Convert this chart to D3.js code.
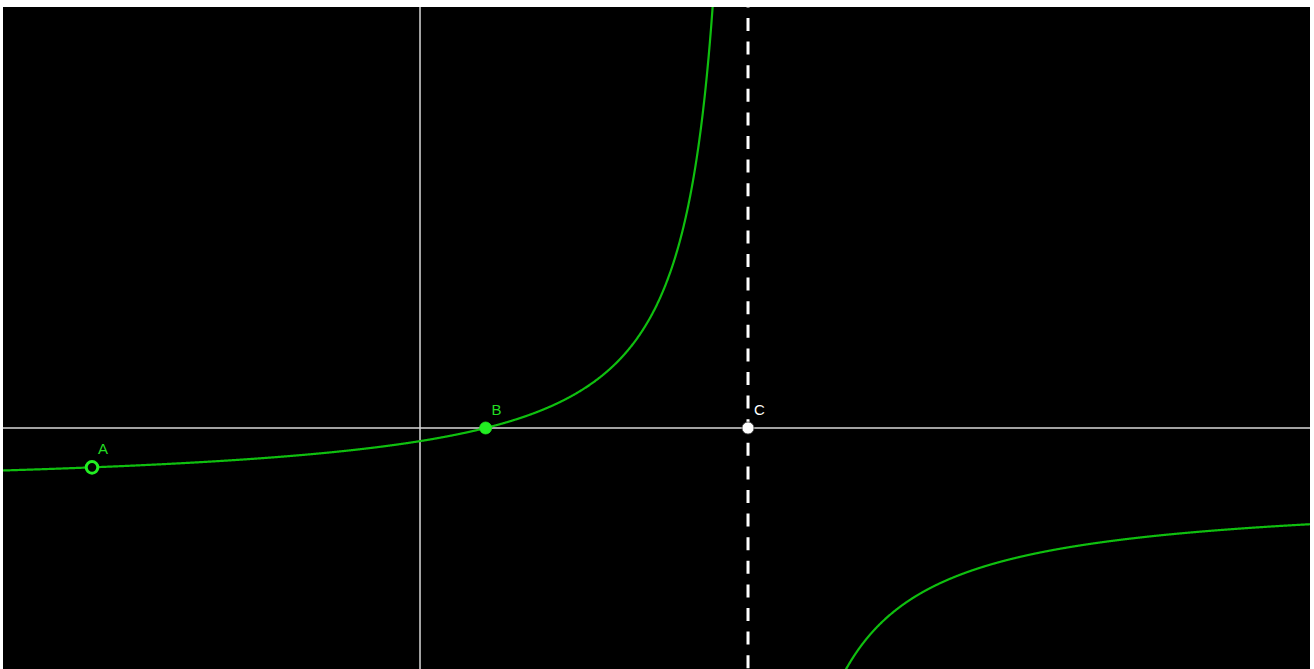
<!DOCTYPE html>
<html>
<head>
<meta charset="utf-8">
<script src="https://cdn.jsdelivr.net/npm/d3@7"></script>
<style>
  body { margin: 0; background: #fff; }
  svg { display: block; }
</style>
</head>
<body>
<div id="graph"></div>
<script>
// view window in graph units
var xView = [-6.357, 13.567];
var yView = [-3.674, 6.418];

// y = hAsym + k / (x - pole), zero at x = 1
var zeroX = 1;
var poleX = 5;
var hAsym = -1;
var kCoef = -4;

// named points
var pointNames = ["A", "B", "C"];
var pointX = [-5, 1, 5];
var pointY = [-0.6, 0, 0];
var pointStyle = ["open", "filled", "white"];

function f(x) {
  return hAsym + kCoef / (x - poleX);
}

function drawGraph() {
  var margin = { top: 7, right: 4, bottom: 0, left: 3 },
    width = 1314 - margin.left - margin.right,
    height = 669 - margin.top - margin.bottom;

  var svg = d3
    .select("#graph")
    .append("svg")
    .attr("width", 1314)
    .attr("height", 669);

  var g = svg
    .append("g")
    .attr("transform", "translate(" + margin.left + "," + margin.top + ")");

  g.append("rect")
    .attr("width", width)
    .attr("height", height)
    .attr("fill", "black");

  g.append("clipPath")
    .attr("id", "clip")
    .append("rect")
    .attr("width", width)
    .attr("height", height);

  var x = d3.scaleLinear().domain(xView).range([0, width]);
  var y = d3.scaleLinear().domain(yView).range([height, 0]);

  var plot = g.append("g").attr("clip-path", "url(#clip)");

  // axes
  plot
    .append("line")
    .attr("x1", 0)
    .attr("x2", width)
    .attr("y1", y(0))
    .attr("y2", y(0))
    .attr("stroke", "#d8d8d8")
    .attr("stroke-width", 1.5);

  plot
    .append("line")
    .attr("x1", x(0))
    .attr("x2", x(0))
    .attr("y1", 0)
    .attr("y2", height)
    .attr("stroke", "#d8d8d8")
    .attr("stroke-width", 1.5);

  // vertical asymptote
  plot
    .append("line")
    .attr("x1", x(poleX))
    .attr("x2", x(poleX))
    .attr("y1", 0)
    .attr("y2", height)
    .attr("stroke", "white")
    .attr("stroke-width", 3)
    .attr("stroke-dasharray", "13,10.6")
    .attr("stroke-dashoffset", 12.6);

  // curve, two branches
  var line = d3
    .line()
    .x(function (d) { return x(d[0]); })
    .y(function (d) { return y(d[1]); });

  var branches = [[xView[0], poleX - 0.01], [poleX + 0.01, xView[1]]];
  branches.forEach(function (b) {
    var pts = [];
    var n = 2000;
    for (var i = 0; i <= n; i++) {
      var t = b[0] + ((b[1] - b[0]) * i) / n;
      var v = f(t);
      if (v > yView[1] + 5 || v < yView[0] - 5) continue;
      pts.push([t, v]);
    }
    plot
      .append("path")
      .datum(pts)
      .attr("d", line)
      .attr("fill", "none")
      .attr("stroke", "#0fbf0f")
      .attr("stroke-width", 2.2);
  });

  // points
  pointNames.forEach(function (name, i) {
    var cx = x(pointX[i]),
      cy = y(pointY[i]);
    var st = pointStyle[i];
    plot
      .append("circle")
      .attr("cx", cx)
      .attr("cy", cy)
      .attr("r", st == "open" ? 5.8 : 6)
      .attr("fill", st == "open" ? "black" : st == "white" ? "white" : "#22ee22")
      .attr("stroke", st == "white" ? "#444" : "#22ee22")
      .attr("stroke-width", st == "open" ? 3 : 0.8);

    plot
      .append("text")
      .attr("x", cx + 6)
      .attr("y", cy - 13)
      .style("font-family", "'Liberation Sans', Arial, sans-serif")
      .style("font-size", "15px")
      .attr("fill", st == "white" ? "white" : "#22dd22")
      .text(name);
  });
}

drawGraph();
</script>
</body>
</html>
